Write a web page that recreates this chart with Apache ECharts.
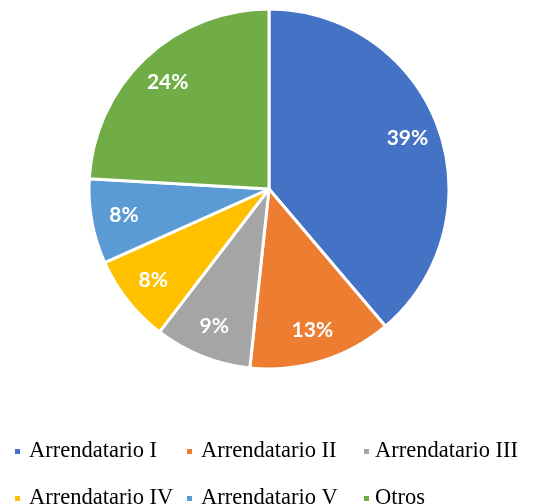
<!DOCTYPE html>
<html>
<head>
<meta charset="utf-8">
<script src="https://cdn.jsdelivr.net/npm/echarts@6/dist/echarts.min.js"></script>
<style>
html,body{margin:0;padding:0;background:#fff;}
#chart{width:539px;height:504px;}
</style>
</head>
<body>
<div id="chart"></div>
<script>
const categories = ['Arrendatario I', 'Arrendatario II', 'Arrendatario III', 'Arrendatario IV', 'Arrendatario V', 'Otros'];
const values = [38.8, 12.9, 8.7, 7.9, 7.6, 24.1];
const colors = ['#4472C4', '#ED7D31', '#A5A5A5', '#FFC000', '#5B9BD5', '#70AD47'];

const chart = echarts.init(document.getElementById('chart'), null, {renderer: 'canvas'});
const data = categories.map((c, i) => ({name: c, value: values[i], itemStyle: {color: colors[i]}}));
const legendText = {fontFamily: '"Liberation Serif", "Times New Roman", serif', fontSize: 22.5, color: '#000', lineHeight: 20};
const columnLeft = [13, 185, 362];
const columnPad = [3, 3, 0];
const legends = columnLeft.map((x, col) => ({
  orient: 'vertical', left: x, top: 440, width: 170, height: 200, itemWidth: 7, itemHeight: 7, itemGap: 24, padding: 0, icon: 'rect',
  selectedMode: false,
  textStyle: Object.assign({}, legendText, {padding: [0, 0, 0, columnPad[col]]}),
  data: [categories[col], categories[col + 3]]
}));
chart.setOption({
  animation: false,
  backgroundColor: '#fff',
  color: colors,
  legend: legends,
  series: [
    {
      type: 'pie', center: [269, 189], radius: [0, 180], startAngle: 90, clockwise: true,
      data: data, label: {show: false}, labelLine: {show: false},
      itemStyle: {borderColor: '#fff', borderWidth: 3},
      emphasis: {disabled: true}
    },
    {
      type: 'pie', center: [269, 189], radius: [109, 180], startAngle: 90, clockwise: true,
      silent: true, legendHoverLink: false,
      data: categories.map((c, i) => ({name: c, value: values[i]})),
      itemStyle: {color: 'rgba(0,0,0,0)', borderWidth: 0},
      label: {show: true, position: 'inside', color: '#fff', fontFamily: 'Lato, "Open Sans", sans-serif',
              fontWeight: 'bold', fontSize: 21,
              formatter: p => Math.round(p.value) + '%'},
      labelLine: {show: false},
      emphasis: {disabled: true}
    }
  ]
});
</script>
</body>
</html>
